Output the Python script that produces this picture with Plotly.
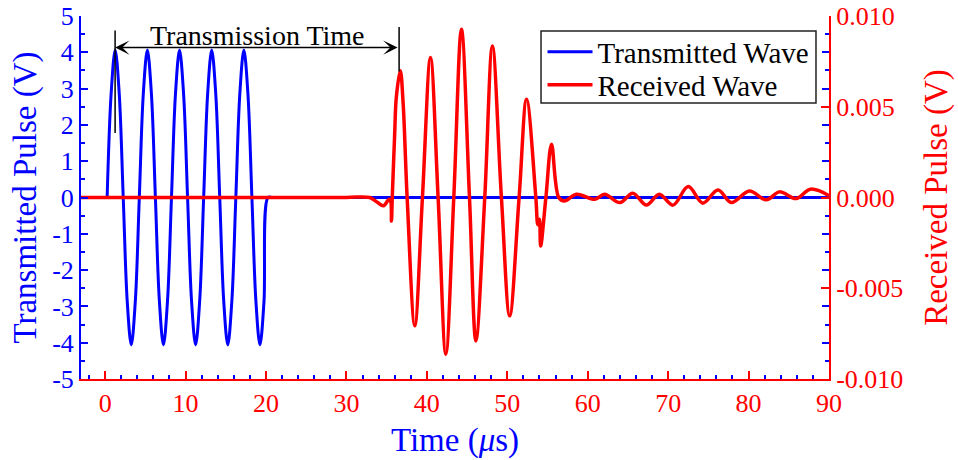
import plotly.graph_objects as go

# Transmitted pulse: 5-cycle tone burst sampled every 0.5 us (V)
tx_time = [0.25, 0.75, 1.25, 1.75, 2.25, 2.75, 3.25, 3.75, 4.25, 4.75,
           5.25, 5.75, 6.25, 6.75, 7.25, 7.75, 8.25, 8.75, 9.25, 9.75,
           10.25, 10.75, 11.25, 11.75, 12.25, 12.75, 13.25, 13.75, 14.25, 14.75,
           15.25, 15.75, 16.25, 16.75, 17.25, 17.75, 18.25, 18.75, 19.25, 19.75,
           20.25, 20.75, 21.25, 90.0]
tx_volt = [0.0, 2.87, 4.06, 2.87, 0.0, -2.87, -4.06, -2.87,
           0.0, 2.87, 4.06, 2.87, 0.0, -2.87, -4.06, -2.87,
           0.0, 2.87, 4.06, 2.87, 0.0, -2.87, -4.06, -2.87,
           0.0, 2.87, 4.06, 2.87, 0.0, -2.87, -4.06, -2.87,
           0.0, 2.87, 4.06, 2.87, 0.0, -2.87, -4.06, -2.87,
           0.0, 0.0, 0.0, 0.0]

# Received pulse: peaks, troughs and zero crossings of the echo (V)
rx_time = [-3.0, 10.0, 20.0, 30.0, 32.9, 33.8, 34.6, 35.3, 35.5, 35.6, 35.7,
           36.0, 36.2, 36.7, 37.05, 37.55, 38.5, 39.45, 40.45, 41.4, 42.36,
           43.35, 44.3, 45.3, 46.1, 47.2, 48.15, 49.27, 50.3, 51.47, 52.4,
           53.55, 53.8, 54.0, 54.15, 54.8, 55.5, 56.4, 57.1, 58.6, 60.9,
           62.1, 64.0, 65.6, 67.3, 68.9, 70.6, 72.5, 74.3, 76.2, 77.85,
           80.1, 82.2, 83.85, 85.9, 87.7, 90.0]
rx_volt = [0.0, 0.0, 0.0, 0.0, 0.0, -0.00025, -0.00046, -0.0001, -0.0002, -0.0013, 0.0,
           0.0035, 0.0055, 0.00698, 0.0052, 0.0, -0.00707, 0.0, 0.00771, 0.0, -0.00863,
           0.0, 0.00927, 0.0, -0.0079, 0.0, 0.00835, 0.0, -0.00652, 0.0, 0.00542,
           0.0, -0.0015, -0.0012, -0.00267, 0.0, 0.00294, 0.0, -0.00019, 0.00018, -0.0001,
           0.00018, -0.00028, 0.00024, -0.00042, 0.00018, -0.00042, 0.0006, -0.00031, 0.00042, -0.00028,
           0.00036, -0.00013, 0.00031, -0.00006, 0.00046, 0.0001]

# Axis tick labels
x_ticks = [0, 10, 20, 30, 40, 50, 60, 70, 80, 90]
y1_ticks = [-5, -4, -3, -2, -1, 0, 1, 2, 3, 4, 5]
y1_labels = ["-5", "-4", "-3", "-2", "-1", "0", "1", "2", "3", "4", "5"]
y2_ticks = [-0.010, -0.005, 0.0, 0.005, 0.010]
y2_labels = ["-0.010", "-0.005", "0.000", "0.005", "0.010"]

# Time of first transmitted peak and first received peak
t_send = 1.24
t_arrive = 36.55

BLUE = "#0000ff"
RED = "#ff0000"
SERIF = "Liberation Serif"

fig = go.Figure()
fig.add_trace(go.Scatter(
    x=tx_time, y=tx_volt, mode="lines", name="Transmitted Wave",
    line=dict(color=BLUE, width=3, shape="spline"),
    xaxis="x", yaxis="y", legend="legend"))
fig.add_trace(go.Scatter(
    x=rx_time, y=rx_volt, mode="lines", name="Received Wave",
    line=dict(color=RED, width=3.5, shape="spline"),
    xaxis="x", yaxis="y2", legend="legend2"))

# One legend row per series, framed together by a single box
legend_style = dict(
    xanchor="left", yanchor="middle", bgcolor="rgba(0,0,0,0)", borderwidth=0,
    font=dict(family=SERIF, size=29, color="black"), itemwidth=45)

fig.update_layout(
    width=958, height=460,
    margin=dict(l=81, r=129, t=16, b=81, autoexpand=False),
    paper_bgcolor="white", plot_bgcolor="white",
    font=dict(family=SERIF, size=26, color="black"),
    showlegend=True,
    legend=dict(x=0.617, y=0.9008, **legend_style),
    legend2=dict(x=0.617, y=0.8099, **legend_style),
    xaxis=dict(
        range=[-3, 90], tickvals=x_ticks, automargin=False,
        showgrid=False, zeroline=False,
        showline=True, linecolor=RED, linewidth=2,
        ticks="inside", ticklen=8, tickwidth=2, tickcolor=RED,
        minor=dict(dtick=2, ticks="inside", ticklen=4, tickwidth=2, tickcolor=BLUE),
        tickfont=dict(family=SERIF, size=26, color=RED),
        title=dict(text="Time (<i>μ</i>s)", font=dict(family=SERIF, size=33, color=BLUE),
                   standoff=11),
        anchor="y"),
    xaxis2=dict(
        range=[-3, 90], tickvals=x_ticks, overlaying="x", side="top", anchor="y",
        automargin=False,
        showgrid=False, zeroline=False, showticklabels=False,
        showline=True, linecolor=BLUE, linewidth=2,
        ticks="inside", ticklen=8, tickwidth=2, tickcolor=BLUE,
        minor=dict(dtick=2, ticks="inside", ticklen=4, tickwidth=2, tickcolor=BLUE)),
    yaxis=dict(
        range=[-5, 5], tickvals=y1_ticks, ticktext=y1_labels, automargin=False,
        showgrid=False, zeroline=False,
        showline=True, linecolor=BLUE, linewidth=2, mirror="ticks",
        ticks="inside", ticklen=7, tickwidth=2, tickcolor=BLUE,
        minor=dict(dtick=0.5, ticks="inside", ticklen=4, tickwidth=2, tickcolor=BLUE),
        tickfont=dict(family=SERIF, size=26, color=BLUE),
        title=dict(text="Transmitted Pulse (V)", font=dict(family=SERIF, size=33, color=BLUE),
                   standoff=6)),
    yaxis2=dict(
        range=[-0.01, 0.01], tickvals=y2_ticks, ticktext=y2_labels,
        overlaying="y", side="right", anchor="x", automargin=False,
        showgrid=False, zeroline=False,
        showline=True, linecolor=RED, linewidth=2,
        ticks="inside", ticklen=8, tickwidth=2, tickcolor=RED,
        tickfont=dict(family=SERIF, size=26, color=RED),
        title=dict(text="Received Pulse (V)", font=dict(family=SERIF, size=33, color=RED),
                   standoff=22)),
)

# Legend frame
fig.add_shape(type="rect", xref="paper", yref="paper",
              x0=0.615, x1=0.9826, y0=0.7603, y1=0.9587,
              fillcolor="white", line=dict(color="#222222", width=1.5), layer="above")

# Transmission time marker: double arrow between the two first peaks
arrow_y = 4.13
fig.add_annotation(
    x=t_send, y=arrow_y, ax=t_arrive, ay=arrow_y,
    xref="x", yref="y", axref="x", ayref="y",
    text="", showarrow=True,
    arrowside="end+start", arrowhead=3, startarrowhead=3,
    arrowsize=1.6, startarrowsize=1.6, arrowwidth=1.5, arrowcolor="black")
fig.add_annotation(
    x=(t_send + t_arrive) / 2, y=4.45, xref="x", yref="y",
    text="Transmission Time", showarrow=False,
    font=dict(family=SERIF, size=28, color="black"),
    xanchor="center", yanchor="middle")
fig.add_shape(type="line", xref="x", yref="y",
              x0=t_send, x1=t_send, y0=1.78, y1=4.6,
              line=dict(color="black", width=1.5))
fig.add_shape(type="line", xref="x", yref="y",
              x0=t_arrive, x1=t_arrive, y0=3.47, y1=4.7,
              line=dict(color="black", width=1.5))

fig.write_html("out.html")
